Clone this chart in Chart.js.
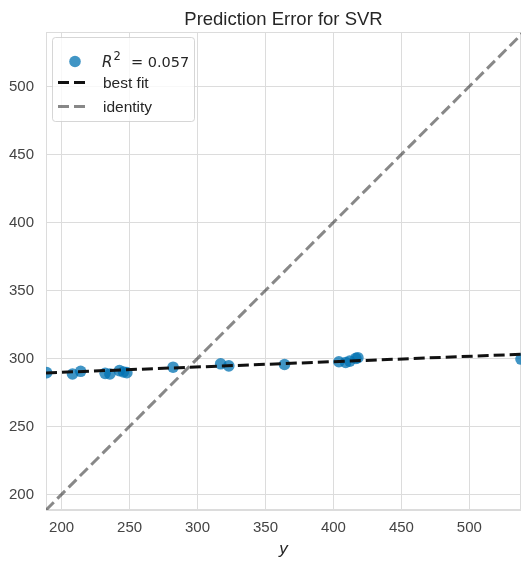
<!DOCTYPE html>
<html>
<head>
<meta charset="utf-8">
<script src="https://cdn.jsdelivr.net/npm/chart.js@4"></script>
<style>
	html, body { margin: 0; padding: 0; background: #fff; overflow: hidden; }
	#wrap { width: 521px; height: 561px; }
</style>
</head>
<body>
<div id="wrap"><canvas id="grafic"></canvas></div>
<script>
// valori
const valoriReale = [189, 208, 214, 232, 235.5, 242.5, 245.5, 248, 282, 317, 323, 364, 404, 409, 412, 416.5, 418, 538];
const valoriPrezise = [289.5, 288.5, 290.5, 289, 288.5, 291, 290, 289.5, 293.5, 296, 294.5, 295.5, 297.5, 297, 298, 300, 300.5, 299.5];
const dreaptaFitX = [188.5, 538];
const dreaptaFitY = [289.3, 303];
const identitateX = [188.5, 540];
const identitateY = [188.5, 540];
const ticksX = [200, 250, 300, 350, 400, 450, 500];
const ticksY = [200, 250, 300, 350, 400, 450, 500];
const titlu = 'Prediction Error for SVR';
const scorR2 = '0.057';

const font = "'Liberation Sans', Arial, sans-serif";
const culoarePuncte = 'rgba(0,114,178,0.75)';
const culoareFit = '#111111';
const culoareIdentitate = 'rgba(17,17,17,0.5)';
const culoareGrid = '#dcdcdc';
const culoareText = '#444444';

const toPuncte = (xs, ys) => xs.map((x, i) => ({ x: x, y: ys[i] }));

// chenarul din jurul zonei de desen
const pluginChenar = {
	id: 'chenar',
	beforeDatasetsDraw(chart) {
		const ctx = chart.ctx;
		const z = chart.chartArea;
		ctx.save();
		ctx.strokeStyle = culoareGrid;
		ctx.lineWidth = 1;
		ctx.strokeRect(z.left + 0.5, z.top + 0.5, z.right - z.left - 1, z.bottom - z.top - 1);
		ctx.restore();
	}
};

// titlu + legenda desenate de mana, ca in matplotlib
const pluginDesen = {
	id: 'desen',
	afterDraw(chart) {
		const ctx = chart.ctx;
		const zona = chart.chartArea;
		ctx.save();
		ctx.fillStyle = '#262626';
		ctx.font = '18.5px ' + font;
		ctx.textAlign = 'center';
		ctx.textBaseline = 'alphabetic';
		ctx.fillText(titlu, (zona.left + zona.right) / 2, 25);

		// cutia legendei
		ctx.beginPath();
		ctx.roundRect(52.5, 37.5, 142, 84, 3);
		ctx.fillStyle = 'rgba(255,255,255,0.8)';
		ctx.fill();
		ctx.strokeStyle = 'rgba(204,204,204,0.8)';
		ctx.lineWidth = 1;
		ctx.stroke();

		// marker puncte
		ctx.beginPath();
		ctx.arc(75, 61.5, 5.8, 0, Math.PI * 2);
		ctx.fillStyle = culoarePuncte;
		ctx.fill();

		ctx.fillStyle = '#262626';
		ctx.textAlign = 'left';
		ctx.font = "italic 15px 'DejaVu Sans', sans-serif";
		ctx.fillText('R', 102, 67);
		ctx.font = "11.5px 'DejaVu Sans', sans-serif";
		ctx.fillText('2', 113.5, 60);
		ctx.font = "14.5px 'DejaVu Sans', sans-serif";
		ctx.fillText('= ' + scorR2, 131, 67);

		// linii legenda
		const linie = (y, culoare) => {
			ctx.beginPath();
			ctx.setLineDash([11, 5]);
			ctx.lineWidth = 3;
			ctx.strokeStyle = culoare;
			ctx.moveTo(58, y);
			ctx.lineTo(88, y);
			ctx.stroke();
		};
		linie(82.5, culoareFit);
		linie(106.5, culoareIdentitate);
		ctx.setLineDash([]);

		ctx.font = '15.5px ' + font;
		ctx.fillStyle = '#262626';
		ctx.fillText(chart.data.datasets[1].label, 103, 88);
		ctx.fillText(chart.data.datasets[2].label, 103, 112);
		ctx.restore();
	}
};

window.addEventListener('load', function () {
	new Chart(document.getElementById('grafic'), {
		type: 'scatter',
		data: {
			datasets: [
				{
					label: 'R2 = ' + scorR2,
					data: toPuncte(valoriReale, valoriPrezise),
					backgroundColor: culoarePuncte,
					borderWidth: 0,
					pointRadius: 5.8,
					order: 3,
					clip: 0
				},
				{
					label: 'best fit',
					data: toPuncte(dreaptaFitX, dreaptaFitY),
					showLine: true,
					borderColor: culoareFit,
					borderWidth: 3,
					borderDash: [11, 5],
					pointRadius: 0,
					order: 2,
					clip: 0
				},
				{
					label: 'identity',
					data: toPuncte(identitateX, identitateY),
					showLine: true,
					borderColor: culoareIdentitate,
					borderWidth: 3,
					borderDash: [11, 5],
					pointRadius: 0,
					order: 1,
					clip: 0
				}
			]
		},
		options: {
			responsive: true,
			maintainAspectRatio: false,
			animation: false,
			events: [],
			layout: { autoPadding: false, padding: { top: 32, right: 0, left: 0, bottom: 0 } },
			plugins: {
				legend: { display: false },
				tooltip: { enabled: false },
				title: { display: false }
			},
			scales: {
				x: {
					type: 'linear',
					min: 188.5,
					max: 538,
					afterBuildTicks: s => { s.ticks = ticksX.map(v => ({ value: v })); },
					afterFit: s => { s.height = 51; },
					grid: { color: culoareGrid, drawTicks: false, lineWidth: 1 },
					border: { color: culoareGrid },
					ticks: { padding: 9, color: culoareText, font: { family: font, size: 15 }, maxRotation: 0 },
					title: {
						display: true,
						text: 'y',
						color: '#262626',
						font: { family: font, size: 17, style: 'italic' },
						padding: { top: 0, bottom: 2 }
					}
				},
				y: {
					type: 'linear',
					min: 188.5,
					max: 540,
					afterBuildTicks: s => { s.ticks = ticksY.map(v => ({ value: v })); },
					afterFit: s => { s.width = 46; },
					grid: { color: culoareGrid, drawTicks: false, lineWidth: 1 },
					border: { color: culoareGrid },
					ticks: { padding: 12, color: culoareText, font: { family: font, size: 15 } }
				}
			}
		},
		plugins: [pluginChenar, pluginDesen]
	});
});
</script>
</body>
</html>
